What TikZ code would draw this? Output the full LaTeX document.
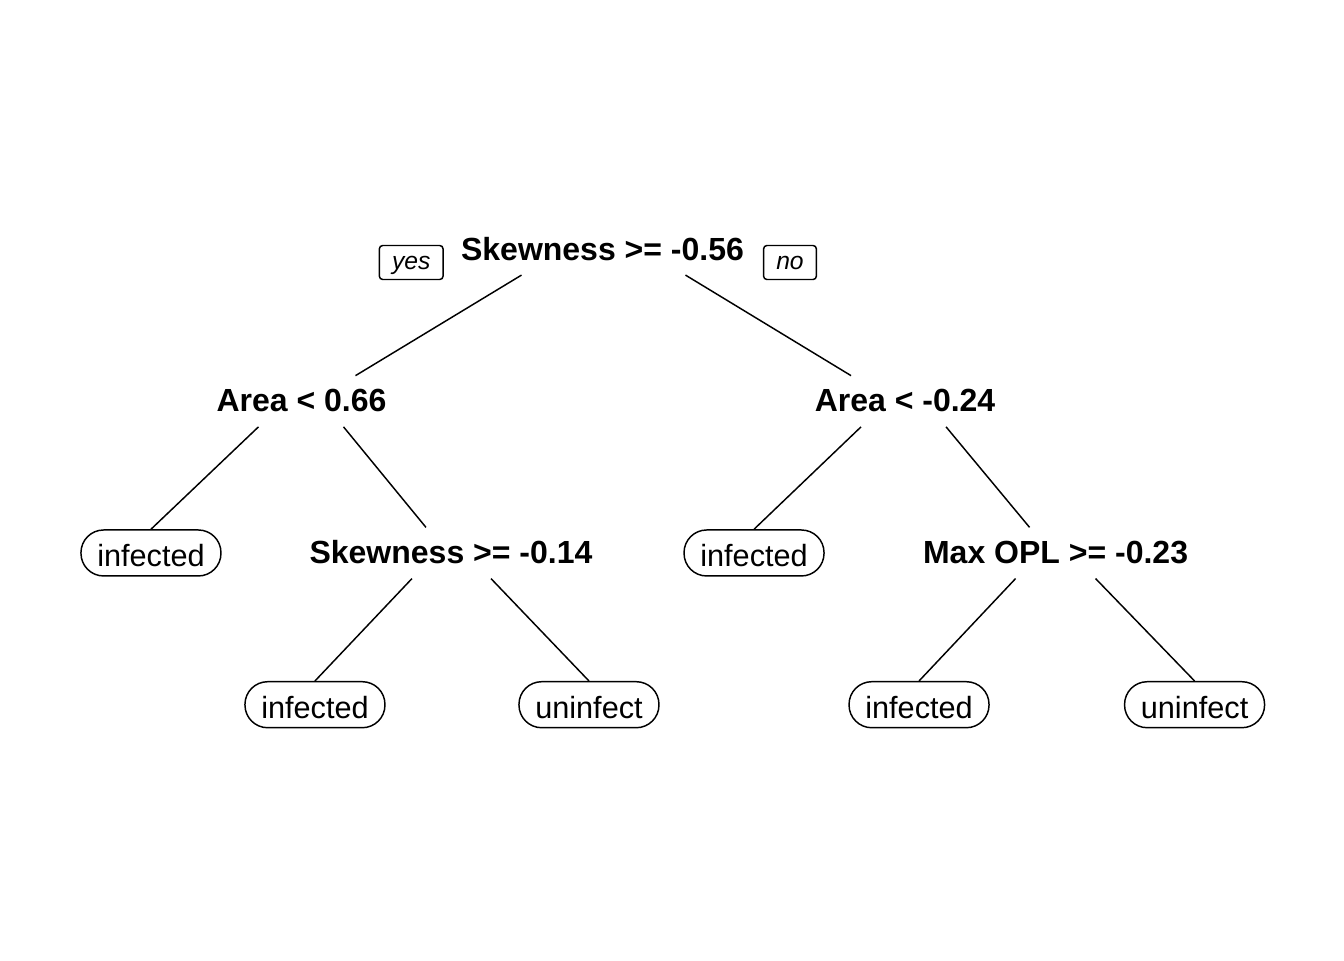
\documentclass[tikz,border=0pt]{standalone}
\usepackage{fontspec}
\setmainfont{Liberation Sans}
\usetikzlibrary{positioning, calc}
\tikzset{
  x=0.75pt, y=-0.75pt, % one unit is one pixel of the plot, y runs downwards
  node distance=113.8pt, % vertical step between two levels of the tree
  split/.style={inner xsep=0pt, inner ysep=11pt, text height=16pt, text depth=0pt,
    font=\fontsize{24}{28}\selectfont\bfseries}, % the split rules
  leaf/.style={draw, line width=1.1pt, rounded corners=17pt, minimum width=105pt,
    minimum height=34.5pt, inner sep=0pt, text height=20.6pt, text depth=0pt,
    font=\fontsize{23}{27}\selectfont}, % the classes
  answer/.style={draw, line width=1.1pt, rounded corners=2.5pt, minimum height=25.5pt,
    inner xsep=9.5pt, inner ysep=0pt, text height=10.5pt, text depth=0pt,
    font=\fontsize{18.5}{22}\selectfont\itshape}, % yes / no
  branch/.style={line width=1.1pt},
}
\begin{document}
\begin{tikzpicture}
  \useasboundingbox (0,0) rectangle (1344,960);

  \node[split] (root) at (602.5,249.5) {Skewness >= -0.56};
  \node[answer, left=12.75pt of root, yshift=-9.75pt] (yes) {yes};
  \node[answer, right=14pt of root, yshift=-9.75pt] (no) {no};

  \node[split, below of=root, xshift=-225.75pt] (area_L) {Area < 0.66};
  \node[split, below of=root, xshift=226.9pt] (area_R) {Area < -0.24};

  \node[leaf, below of=area_L, xshift=-112.9pt] (inf_1) {infected};
  \node[split, below of=area_L, xshift=112.1pt] (skew_2) {Skewness >= -0.14};
  \node[leaf, below of=area_R, xshift=-113.25pt] (inf_2) {infected};
  \node[split, below of=area_R, xshift=112.9pt] (maxopl) {Max OPL >= -0.23};

  \node[leaf, below of=skew_2, xshift=-102pt] (inf_3) {infected};
  \node[leaf, below of=skew_2, xshift=103.5pt] (uninf_1) {uninfect};
  \node[leaf, below of=maxopl, xshift=-102.4pt] (inf_4) {infected};
  \node[leaf, below of=maxopl, xshift=104.25pt] (uninf_2) {uninfect};

  \draw[branch] ($(root.south)+(-81,0)$) -- ($(area_L.north)+(54,0)$);
  \draw[branch] ($(root.south)+(83,0)$) -- ($(area_R.north)+(-54,0)$);
  \draw[branch] ($(area_L.south)+(-43,0)$) -- (inf_1.north);
  \draw[branch] ($(area_L.south)+(42,0)$) -- ($(skew_2.north)+(-25,0)$);
  \draw[branch] ($(area_R.south)+(-44,0)$) -- (inf_2.north);
  \draw[branch] ($(area_R.south)+(41,0)$) -- ($(maxopl.north)+(-26,0)$);
  \draw[branch] ($(skew_2.south)+(-39,0)$) -- (inf_3.north);
  \draw[branch] ($(skew_2.south)+(40,0)$) -- (uninf_1.north);
  \draw[branch] ($(maxopl.south)+(-40,0)$) -- (inf_4.north);
  \draw[branch] ($(maxopl.south)+(40,0)$) -- (uninf_2.north);
\end{tikzpicture}
\end{document}
